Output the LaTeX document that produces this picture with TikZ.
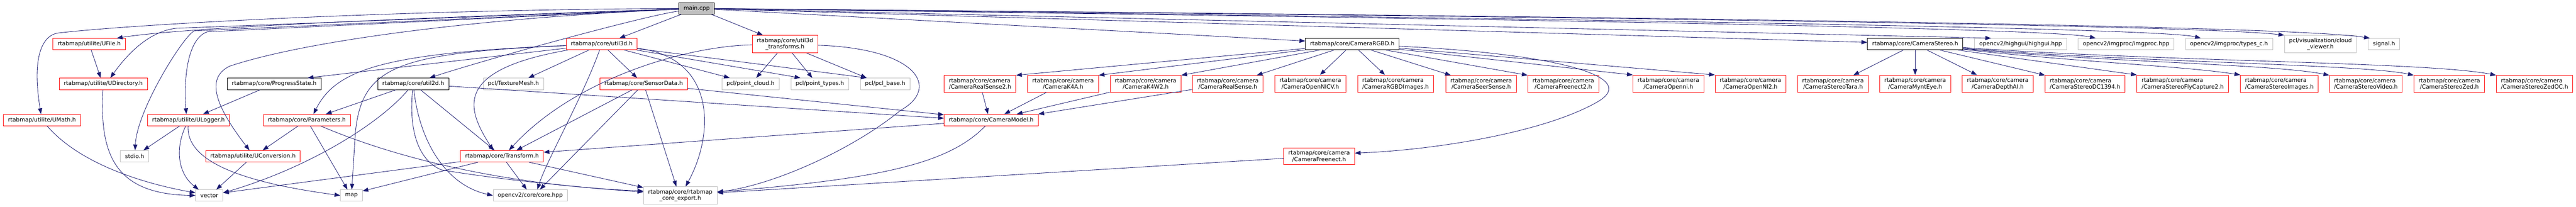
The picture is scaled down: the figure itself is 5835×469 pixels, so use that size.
\documentclass[tikz,border=0pt]{standalone}
\usepackage{fontspec}
\setmainfont{DejaVu Sans}
\usetikzlibrary{arrows.meta}

\definecolor{inclblue}{HTML}{191970}
\definecolor{sysgray}{HTML}{BFBFBF}

\begin{document}
\begin{tikzpicture}[x=1pt, y=-1pt,
    filebox/.style={font=\fontsize{12.8}{15}\selectfont, align=center, fill=white,
        line width=1pt, inner xsep=10.5pt, inner ysep=6pt, minimum height=26pt},
    plainbox/.style={filebox, draw=black},
    redbox/.style={filebox, draw=red},
    graybox/.style={filebox, draw=sysgray},
    mainbox/.style={filebox, draw=black, fill=sysgray},
    incl/.style={draw=inclblue, line width=1pt, -{Triangle[length=13pt, width=9.5pt]}}]

    \fill[white] (0,0) rectangle (5835,469);
    \useasboundingbox (0,0) rectangle (5835,469);

    \node[mainbox] (main) at (1578,19) {main.cpp};

    \node[redbox] (ufile) at (202,100) {rtabmap/utilite/UFile.h};
    \node[redbox] (udir) at (234,190) {rtabmap/utilite/UDirectory.h};
    \node[redbox] (umath) at (95,272) {rtabmap/utilite/UMath.h};
    \node[redbox] (ulogger) at (427,272) {rtabmap/utilite/ULogger.h};
    \node[graybox] (stdio) at (305,354) {stdio.h};
    \node[redbox] (uconv) at (573,354) {rtabmap/utilite/UConversion.h};
    \node[graybox] (vector) at (474,443) {vector};
    \node[plainbox] (progress) at (621,190) {rtabmap/core/ProgressState.h};
    \node[redbox] (params) at (695,272) {rtabmap/core/Parameters.h};
    \node[graybox] (map) at (796,443) {map};
    \node[plainbox] (utiltwod) at (936,190) {rtabmap/core/util2d.h};
    \node[graybox] (texmesh) at (1163,190) {pcl/TextureMesh.h};
    \node[redbox] (utilthreed) at (1363,100) {rtabmap/core/util3d.h};
    \node[redbox] (sensor) at (1458,190) {rtabmap/core/SensorData.h};
    \node[redbox] (transform) at (1137,354) {rtabmap/core/Transform.h};
    \node[graybox] (cvcore) at (1201,443) {opencv2/core/core.hpp};
    \node[redbox] (utiltrans) at (1778,100) {rtabmap/core/util3d\\\_transforms.h};
    \node[graybox] (ptcloud) at (1700,190) {pcl/point\_cloud.h};
    \node[graybox] (pttypes) at (1857,190) {pcl/point\_types.h};
    \node[graybox] (pclbase) at (2005,190) {pcl/pcl\_base.h};
    \node[graybox] (coreexport) at (1541,443) {rtabmap/core/rtabmap\\\_core\_export.h};
    \node[redbox] (cammodel) at (2245,272) {rtabmap/core/CameraModel.h};

    \node[plainbox] (camrgbd) at (3063,100) {rtabmap/core/CameraRGBD.h};
    \node[redbox, align=left] (camrs2) at (2220,190) {rtabmap/core/camera\\/CameraRealSense2.h};
    \node[redbox] (camk4a) at (2408,190) {rtabmap/core/camera\\/CameraK4A.h};
    \node[redbox] (camk4w2) at (2595,190) {rtabmap/core/camera\\/CameraK4W2.h};
    \node[redbox] (camrs) at (2781,190) {rtabmap/core/camera\\/CameraRealSense.h};
    \node[redbox] (camonicv) at (2968,190) {rtabmap/core/camera\\/CameraOpenNICV.h};
    \node[redbox, align=left] (camrgbdimg) at (3161,190) {rtabmap/core/camera\\/CameraRGBDImages.h};
    \node[redbox] (camseer) at (3355,190) {rtabmap/core/camera\\/CameraSeerSense.h};
    \node[redbox] (camfn2) at (3541,190) {rtabmap/core/camera\\/CameraFreenect2.h};
    \node[redbox] (camopenni) at (3779,190) {rtabmap/core/camera\\/CameraOpenni.h};
    \node[redbox] (camoni2) at (3965,190) {rtabmap/core/camera\\/CameraOpenNI2.h};
    \node[redbox] (camfn) at (2988,354) {rtabmap/core/camera\\/CameraFreenect.h};

    \node[plainbox] (camstereo) at (4338,100) {rtabmap/core/CameraStereo.h};
    \node[redbox] (camtara) at (4152,190) {rtabmap/core/camera\\/CameraStereoTara.h};
    \node[redbox] (cammynt) at (4338,190) {rtabmap/core/camera\\/CameraMyntEye.h};
    \node[redbox] (camdai) at (4525,190) {rtabmap/core/camera\\/CameraDepthAI.h};
    \node[redbox, align=left] (camdc) at (4723,190) {rtabmap/core/camera\\/CameraStereoDC1394.h};
    \node[redbox, align=left] (camfly) at (4944,190) {rtabmap/core/camera\\/CameraStereoFlyCapture2.h};
    \node[redbox, align=left] (camsimg) at (5163,190) {rtabmap/core/camera\\/CameraStereoImages.h};
    \node[redbox, align=left] (camsvid) at (5359,190) {rtabmap/core/camera\\/CameraStereoVideo.h};
    \node[redbox] (camzed) at (5548,190) {rtabmap/core/camera\\/CameraStereoZed.h};
    \node[redbox, align=left] (camzedoc) at (5741,190) {rtabmap/core/camera\\/CameraStereoZedOC.h};

    \node[graybox] (highgui) at (4577,100) {opencv2/highgui/highgui.hpp};
    \node[graybox] (imgproc) at (4816,100) {opencv2/imgproc/imgproc.hpp};
    \node[graybox] (typesc) at (5049,100) {opencv2/imgproc/types\_c.h};
    \node[graybox] (cloudview) at (5256,100) {pcl/visualization/cloud\\\_viewer.h};
    \node[graybox] (signal) at (5400,100) {signal.h};

    \draw[incl] (main) .. controls (900,22) and (300,55) .. (130,75) .. controls (95,82) and (72,130) .. (umath);
    \draw[incl] (main) .. controls (800,45) and (400,65) .. ([xshift=-20pt]ufile.north east);
    \draw[incl] (main) -- (400,64) .. controls (340,70) and (290,120) .. ([xshift=16pt]udir.north);
    \draw[incl] (main) -- (440,70) .. controls (415,82) and (310,250) .. ([xshift=1pt]stdio.north);
    \draw[incl] (main) -- (470,72) .. controls (430,85) and (415,160) .. ([xshift=-5pt]ulogger.north);
    \draw[incl] (main) .. controls (1100,40) and (700,90) .. (520,150) .. controls (470,175) and (480,230) .. ([xshift=-8pt]uconv.north);
    \draw[incl] (main) .. controls (1450,38) and (1100,135) .. ([xshift=-44pt]utiltwod.north east);
    \draw[incl] (main) -- ([xshift=40pt]utilthreed.north);
    \draw[incl] (main) -- ([xshift=-50pt]utiltrans.north);
    \draw[incl] (main) -- ([yshift=7pt]camrgbd.west);
    \draw[incl] (main) -- ([yshift=4pt]camstereo.west);
    \draw[incl] (main) -- ([xshift=-67pt]highgui.north);
    \draw[incl] (main) .. controls (3600,45) and (4650,65) .. ([xshift=-69pt]imgproc.north);
    \draw[incl] (main) .. controls (3800,45) and (4900,65) .. ([xshift=-64pt]typesc.north);
    \draw[incl] (main) .. controls (4000,42) and (5000,60) .. (cloudview.north west);
    \draw[incl] (main) .. controls (4000,40) and (5200,60) .. ([xshift=-32pt]signal.north);

    \draw[incl] (ufile) -- ([xshift=-6pt]udir.north);
    \draw[incl] (udir) .. controls (225,350) and (260,440) .. (vector.west);
    \draw[incl] (umath) .. controls (180,370) and (320,415) .. ([yshift=6pt]vector.west);
    \draw[incl] (ulogger) -- ([xshift=20pt]stdio.north);
    \draw[incl] (ulogger) .. controls (395,340) and (405,395) .. ([xshift=-24pt]vector.north);
    \draw[incl] (ulogger) .. controls (420,380) and (600,420) .. (map.west);
    \draw[incl] (progress) -- ([xshift=33pt]ulogger.north);
    \draw[incl] (uconv) -- ([xshift=16pt]vector.north);
    \draw[incl] (params) -- ([xshift=22pt]uconv.north);
    \draw[incl] (params) -- ([xshift=-9pt]map.north);
    \draw[incl] (params) .. controls (900,360) and (1150,420) .. ([yshift=10pt]coreexport.west);

    \draw[incl] (utiltwod) -- ([xshift=43pt]params.north);
    \draw[incl] (utiltwod) .. controls (860,280) and (700,380) .. ([yshift=6pt]vector.east);
    \draw[incl] (utiltwod) -- ([xshift=-17pt]transform.north);
    \draw[incl] (utiltwod) .. controls (950,320) and (1010,420) .. (cvcore.west);
    \draw[incl] (utiltwod) .. controls (925,300) and (950,365) .. (1000,385) .. controls (1150,410) and (1350,428) .. ([yshift=8pt]coreexport.west);
    \draw[incl] (utiltwod) -- ([yshift=4pt]cammodel.west);

    \draw[incl] (utilthreed) -- ([xshift=76pt]progress.north);
    \draw[incl] (utilthreed) .. controls (860,120) and (760,160) .. ([xshift=15pt]params.north);
    \draw[incl] (utilthreed) .. controls (900,120) and (820,150) .. (805,300) -- (map);
    \draw[incl] (utilthreed) .. controls (1020,160) and (1060,250) .. ([xshift=-20pt]transform.north);
    \draw[incl] (utilthreed) -- ([xshift=34pt]texmesh.north);
    \draw[incl] (utilthreed) .. controls (1320,220) and (1240,360) .. ([xshift=16pt]cvcore.north);
    \draw[incl] (utilthreed) -- ([xshift=-15pt]sensor.north);
    \draw[incl] (utilthreed) -- ([xshift=-47pt]ptcloud.north);
    \draw[incl] (utilthreed) -- ([xshift=-44pt]pttypes.north);
    \draw[incl] (utilthreed) -- ([xshift=-42pt]pclbase.north);
    \draw[incl] (utilthreed) .. controls (1620,130) and (1620,300) .. ([xshift=12pt]coreexport.north);

    \draw[incl] (utiltrans) -- ([xshift=13pt]ptcloud.north);
    \draw[incl] (utiltrans) -- ([xshift=-17pt]pttypes.north);
    \draw[incl] (utiltrans) -- ([xshift=-42pt]pclbase.north);
    \draw[incl] (utiltrans) .. controls (1550,105) and (1300,180) .. ([xshift=16pt]transform.north);
    \draw[incl] (utiltrans) .. controls (2080,110) and (2130,200) .. (2040,250) .. controls (1930,340) and (1750,420) .. ([yshift=8pt]coreexport.east);

    \draw[incl] (sensor) -- ([xshift=33pt]transform.north);
    \draw[incl] (sensor) -- ([xshift=22pt]cvcore.north);
    \draw[incl] (sensor) -- ([xshift=-9pt]coreexport.north);
    \draw[incl] (sensor) -- ([yshift=12pt]cammodel.west);

    \draw[incl] (transform) -- ([yshift=6pt]vector.east);
    \draw[incl] (transform) -- ([yshift=10pt]map.east);
    \draw[incl] (transform) -- ([xshift=-8pt]cvcore.north);
    \draw[incl] (transform) -- ([yshift=18pt]coreexport.west);

    \draw[incl] (cammodel) -- ([yshift=9pt]transform.east);
    \draw[incl] (cammodel) .. controls (2150,370) and (2000,405) .. ([yshift=8pt]coreexport.east);
    \draw[incl] (camfn) -- ([yshift=6pt]coreexport.east);

    \draw[incl] (camrgbd) -- (camrs2.north east);
    \draw[incl] (camrgbd) -- (camk4a.north east);
    \draw[incl] (camrgbd) -- (camk4w2.north east);
    \draw[incl] (camrgbd) -- ([xshift=-15pt]camrs.north east);
    \draw[incl] (camrgbd) -- ([xshift=22pt]camonicv.north);
    \draw[incl] (camrgbd) -- ([xshift=-24pt]camrgbdimg.north);
    \draw[incl] (camrgbd) -- ([xshift=12pt]camseer.north west);
    \draw[incl] (camrgbd) -- (camfn2.north west);
    \draw[incl] (camrgbd) -- (camopenni.north west);
    \draw[incl] (camrgbd) -- (camoni2.north west);
    \draw[incl] (camrgbd) .. controls (3500,120) and (3720,170) .. (3620,230) .. controls (3500,300) and (3250,340) .. ([yshift=7pt]camfn.east);

    \draw[incl] (camrs2) -- ([xshift=-7pt]cammodel.north);
    \draw[incl] (camk4a) -- ([xshift=30pt]cammodel.north);
    \draw[incl] (camk4w2) -- ([xshift=58pt]cammodel.north);
    \draw[incl] (camrs) -- (cammodel.north east);

    \draw[incl] (camstereo) -- ([xshift=46pt]camtara.north);
    \draw[incl] (camstereo) -- (cammynt);
    \draw[incl] (camstereo) -- ([xshift=-47pt]camdai.north);
    \draw[incl] (camstereo) -- (camdc.north west);
    \draw[incl] (camstereo) -- (camfly.north west);
    \draw[incl] (camstereo) .. controls (4700,140) and (4950,150) .. (camsimg.north west);
    \draw[incl] (camstereo) .. controls (4750,140) and (5150,145) .. (camsvid.north west);
    \draw[incl] (camstereo) .. controls (4800,140) and (5350,145) .. (camzed.north west);
    \draw[incl] (camstereo) .. controls (4900,140) and (5500,140) .. (camzedoc.north west);

\end{tikzpicture}
\end{document}
